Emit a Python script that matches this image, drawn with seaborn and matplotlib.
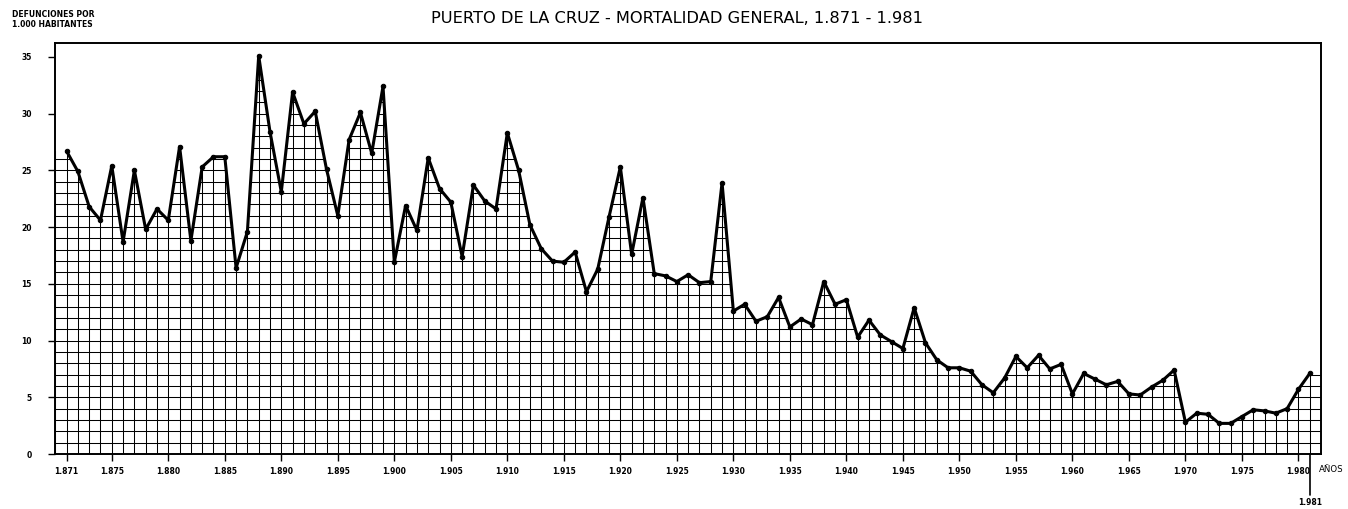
import matplotlib
matplotlib.use("Agg")
import matplotlib.pyplot as plt
import matplotlib.transforms as mtransforms
from matplotlib.patches import Polygon
import numpy as np
import pandas as pd
import seaborn as sns

# deaths per 1,000 inhabitants, Puerto de la Cruz
years = list(range(1871, 1982))
rate = [
    26.7, 24.9, 21.8, 20.6, 25.4, 18.7, 25.0, 19.8, 21.6, 20.6,   # 1871-1880
    27.1, 18.8, 25.3, 26.2, 26.2, 16.4, 19.6, 35.1, 28.4, 23.1,   # 1881-1890
    31.9, 29.1, 30.2, 25.1, 21.0, 27.7, 30.1, 26.5, 32.4, 16.9,   # 1891-1900
    21.9, 19.7, 26.1, 23.4, 22.2, 17.4, 23.7, 22.3, 21.6, 28.3,   # 1901-1910
    25.0, 20.2, 18.1, 17.0, 16.9, 17.8, 14.3, 16.3, 20.9, 25.3,   # 1911-1920
    17.6, 22.6, 15.9, 15.7, 15.2, 15.8, 15.1, 15.2, 23.9, 12.6,   # 1921-1930
    13.2, 11.7, 12.1, 13.8, 11.2, 11.9, 11.4, 15.2, 13.2, 13.6,   # 1931-1940
    10.3, 11.8, 10.5, 9.9, 9.3, 12.9, 9.8, 8.3, 7.6, 7.6,         # 1941-1950
    7.3, 6.1, 5.4, 6.7, 8.6, 7.6, 8.7, 7.5, 7.9, 5.3,             # 1951-1960
    7.1, 6.6, 6.1, 6.4, 5.3, 5.2, 5.9, 6.5, 7.4, 2.8,             # 1961-1970
    3.6, 3.5, 2.7, 2.7, 3.3, 3.9, 3.8, 3.6, 4.0, 5.7,             # 1971-1980
    7.1,                                                          # 1981
]
tick_years = [1871, 1875, 1880, 1885, 1890, 1895, 1900, 1905, 1910, 1915, 1920,
              1925, 1930, 1935, 1940, 1945, 1950, 1955, 1960, 1965, 1970, 1975, 1980]
y_ticks = [0, 5, 10, 15, 20, 25, 30, 35]


def spanish_year(y):
    return f"{y // 1000}.{y % 1000:03d}"


df = pd.DataFrame({"year": years, "rate": rate})

sns.set_style("white")
plt.rcParams["font.family"] = ["DejaVu Sans"]
plt.rcParams["text.color"] = "black"
plt.rcParams["xtick.color"] = "black"
plt.rcParams["ytick.color"] = "black"

fig = plt.figure(figsize=(13.48, 5.09), dpi=100)
ax = fig.add_axes([0.041, 0.108, 0.939, 0.807])
x0, x1 = 1870, 1982
ax.set_xlim(x0, x1)
ax.set_ylim(0, 36.2)

# area under the curve, used to clip the square grid
verts = [(x0, 0), (x0, rate[0])] + list(zip(years, rate)) + [(x1, rate[-1]), (x1, 0)]
clip = Polygon(verts, closed=True, facecolor="none", edgecolor="none",
               transform=ax.transData)
ax.add_patch(clip)
vl = ax.vlines(np.arange(x0, x1 + 1), 0, 36.2, color="black", linewidth=0.75)
hl = ax.hlines(np.arange(0, 37), x0, x1, color="black", linewidth=0.75)
vl.set_clip_path(clip)
hl.set_clip_path(clip)

sns.lineplot(data=df, x="year", y="rate", ax=ax, color="black", linewidth=2.2,
             marker="o", markersize=3.2, markeredgecolor="black")

for s in ax.spines.values():
    s.set_color("black")
    s.set_linewidth(1.4)

ax.set_xlabel("")
ax.set_ylabel("")
ax.set_xticks(tick_years)
ax.set_xticklabels([spanish_year(y) for y in tick_years], fontsize=5.5,
                   fontweight="bold")
ax.set_yticks(y_ticks)
ax.set_yticklabels([str(v) for v in y_ticks], fontsize=5.5, fontweight="bold")
ax.tick_params(axis="both", direction="out", length=5, width=1, color="black",
               labelcolor="black", bottom=True, left=True)
ax.tick_params(axis="x", pad=4)
ax.tick_params(axis="y", pad=12)

# long tick for the final year, with its label beneath
trans = mtransforms.blended_transform_factory(ax.transData, ax.transAxes)
ax.plot([years[-1], years[-1]], [0, -0.1], transform=trans, color="black",
        linewidth=1.2, clip_on=False)
ax.text(years[-1], -0.118, spanish_year(years[-1]), transform=trans, fontsize=5.5,
        fontweight="bold", ha="center", va="center")
ax.text(1982.9, -0.037, "AÑOS", transform=trans, fontsize=6.2, ha="center",
        va="center")

fig.text(0.502, 0.963, "PUERTO DE LA CRUZ - MORTALIDAD GENERAL, 1.871 - 1.981",
         ha="center", va="center", fontsize=11.7)
fig.text(0.009, 0.962, "DEFUNCIONES POR\n1.000 HABITANTES", ha="left", va="center",
         fontsize=5.5, fontweight="bold", linespacing=1.1)

fig.savefig("out.png", dpi=100)
plt.close(fig)
